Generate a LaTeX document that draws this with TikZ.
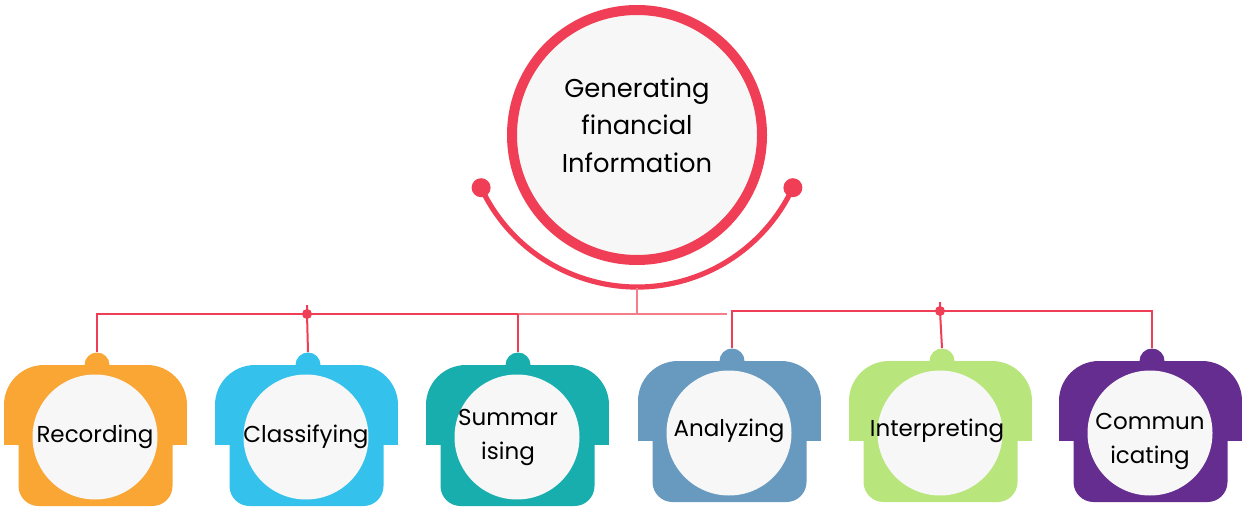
\documentclass[tikz,border=0pt]{standalone}
\usepackage{fontspec}
\setmainfont{Poppins}
\definecolor{hubred}{HTML}{EF3E55}
\definecolor{linkpale}{HTML}{F47D89}
\definecolor{cardbg}{HTML}{F7F7F7}
\definecolor{recordorange}{HTML}{F9A634}
\definecolor{classblue}{HTML}{34C1EC}
\definecolor{summteal}{HTML}{18AEAD}
\definecolor{analysteel}{HTML}{6899BF}
\definecolor{interpgreen}{HTML}{B8E67C}
\definecolor{commpurple}{HTML}{652D8F}

\tikzset{
  hub/.style={circle, draw=hubred, line width=5pt, fill=cardbg, minimum size=125pt,
    inner sep=0pt},
  hubtext/.style={align=center, font=\fontsize{12.9}{18.7}\selectfont},
  bubble/.style={circle, fill=cardbg, minimum size=62.5pt, inner sep=0pt},
  cardtext/.style={align=center, inner sep=0pt, font=\fontsize{11.5}{17}\selectfont},
  nub/.style={circle, minimum size=12.5pt, inner sep=0pt},
  knob/.style={circle, fill=hubred, minimum size=9.5pt, inner sep=0pt},
  joint/.style={circle, fill=hubred, minimum size=5pt, inner sep=0pt},
  link/.style={hubred, line width=1pt},
  palelink/.style={linkpale, line width=1pt}
}

% card: name, left x, top y, colour, nub x, text, text shift
\newcommand{\card}[7]{%
  \fill[#4, rounded corners=20pt] (#2,#3) rectangle ++(183,80);
  \fill[#4] (#2,#3+40) rectangle ++(183,40);
  \fill[#4, rounded corners=10pt] (#2+14.5,#3+60) rectangle ++(154,81);
  \node[nub, fill=#4] (#1-nub) at (#5,#3) {};
  \node[bubble] (#1) at (#2+91,#3+72) {};
  \node[cardtext, #7] (#1-text) at (#1) {#6};
}

\begin{document}
\begin{tikzpicture}[x=0.5pt,y=-0.5pt]
\useasboundingbox (0,0) rectangle (1242,508);

\node[hub] (hub) at (637,135) {};
\node[hubtext] (hub-text) at (637,125) {Generating\\financial\\Information};
\node[knob] (knobL) at (481.1,187.7) {};
\node[knob] (knobR) at (792.9,187.7) {};
\draw[hubred, line width=2.6pt] (knobL.center) arc[start angle=155, end angle=25, radius=172];
\coordinate (arcB) at (637,288);

\card{recording}{4}{365}{recordorange}{97}{Recording}{}
\card{classifying}{215}{365}{classblue}{308}{Classifying}{}
\card{summarising}{426}{365}{summteal}{518}{Summar\\ising}{xshift=-4.5pt}
\card{analyzing}{638}{361}{analysteel}{732}{Analyzing}{yshift=1pt}
\card{interpreting}{849}{361}{interpgreen}{942}{Interpreting}{xshift=-1.5pt,yshift=1pt}
\card{communicating}{1059}{361}{commpurple}{1152}{Commun\\icating}{yshift=-4pt}

% left branch
\node[joint] (jl) at (307,314) {};
\coordinate (jltop) at (307,305);
\coordinate (ljend) at (727,314);
\draw[link] (recording-nub.north) |- (jl.center) -- (summarising-nub.north |- jl);
\draw[palelink] (summarising-nub.north |- jl) -- (ljend);
\draw[link] (summarising-nub.north) -- (summarising-nub.north |- jl);
\draw[palelink] (arcB) -- (arcB |- jl);
\draw[link] (jltop) -- (jl.center) -- (classifying-nub.north);

% right branch
\node[joint] (jr) at (940,311) {};
\coordinate (jrtop) at (940,302);
\draw[link] (analyzing-nub.north) |- (jr.center) -| (communicating-nub.north);
\draw[link] (jrtop) -- (jr.center) -- (interpreting-nub.north);

\end{tikzpicture}
\end{document}
